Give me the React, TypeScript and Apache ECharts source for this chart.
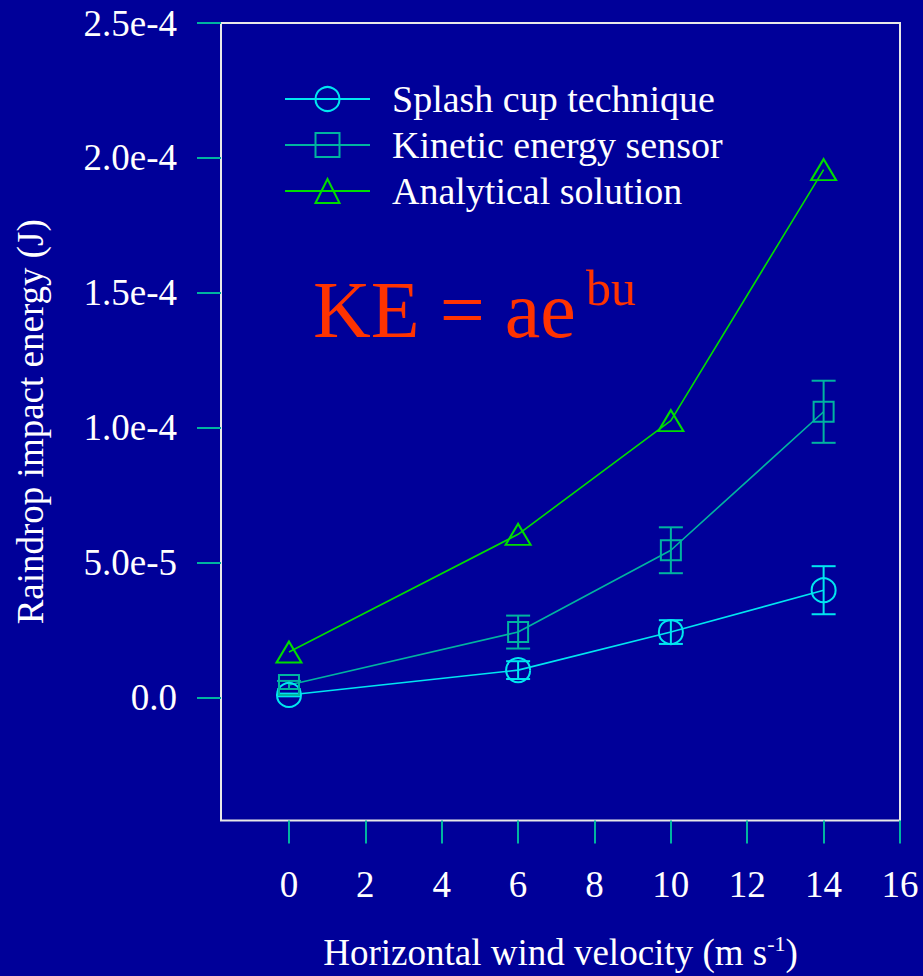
import React, { useEffect, useRef } from "react";
import * as echarts from "echarts";

// ---- Data ----
const windVelocity = [0, 6, 10, 14];
const splashCup = [0.11e-5, 1.03e-5, 2.44e-5, 3.99e-5];
const splashCupErr = [0.05e-5, 0.33e-5, 0.44e-5, 0.89e-5];
const kineticSensor = [0.48e-5, 2.44e-5, 5.47e-5, 10.6e-5];
const kineticSensorErr = [0.15e-5, 0.61e-5, 0.85e-5, 1.15e-5];
const analytical = [1.7e-5, 6.06e-5, 10.27e-5, 19.57e-5];

const seriesNames = ["Splash cup technique", "Kinetic energy sensor", "Analytical solution"];

const xTickValues = [0, 2, 4, 6, 8, 10, 12, 14, 16];
const yTickValues = [0, 5e-5, 1e-4, 1.5e-4, 2e-4, 2.5e-4];
const yTickLabels = ["0.0", "5.0e-5", "1.0e-4", "1.5e-4", "2.0e-4", "2.5e-4"];

const BG = "#000099";
const CYAN = "#00e6f0";
const TEAL = "#00b4a0";
const GREEN = "#00dd00";
const FONT = "'Liberation Serif', 'Times New Roman', serif";

function errorSeries(ys: number[], errs: number[], color: string) {
  return {
    type: "custom",
    silent: true,
    z: 3,
    data: windVelocity.map((x, i) => [x, ys[i] - errs[i], ys[i] + errs[i]]),
    encode: { x: 0, y: [1, 2] },
    renderItem: (_params: any, api: any) => {
      const x = api.value(0);
      const lo = api.coord([x, api.value(1)]);
      const hi = api.coord([x, api.value(2)]);
      const w = 12;
      const style = { stroke: color, lineWidth: 2 };
      return {
        type: "group",
        children: [
          { type: "line", shape: { x1: lo[0], y1: lo[1], x2: hi[0], y2: hi[1] }, style },
          { type: "line", shape: { x1: lo[0] - w, y1: lo[1], x2: lo[0] + w, y2: lo[1] }, style },
          { type: "line", shape: { x1: hi[0] - w, y1: hi[1], x2: hi[0] + w, y2: hi[1] }, style },
        ],
      };
    },
  };
}

function lineSeries(name: string, ys: number[], color: string, symbol: string, size: any) {
  return {
    name,
    type: "line",
    z: 4,
    data: windVelocity.map((x, i) => [x, ys[i]]),
    symbol,
    symbolSize: size,
    showAllSymbol: true,
    lineStyle: { color, width: 1.6 },
    itemStyle: { color: "rgba(0,0,0,0)", borderColor: color, borderWidth: 2 },
    emphasis: { disabled: true },
  };
}

export default function App() {
  const ref = useRef<HTMLDivElement>(null);
  useEffect(() => {
    if (!ref.current) return;
    const chart = echarts.init(ref.current, undefined, { renderer: "svg" });
    chart.setOption({
      animation: false,
      backgroundColor: BG,
      grid: {
        left: 221,
        top: 23,
        right: 23,
        bottom: 153,
        show: true,
        borderColor: "#e8e8e8",
        borderWidth: 2,
        backgroundColor: "transparent",
      },
      legend: {
        orient: "vertical",
        left: 279,
        top: 75,
        itemWidth: 85,
        itemHeight: 30,
        itemGap: 8,
        data: seriesNames,
        textStyle: { color: "#ffffff", fontSize: 38, fontFamily: FONT, padding: [0, 0, 0, 17] },
        selectedMode: false,
      },
      xAxis: {
        type: "value",
        min: -1.78,
        max: 16,
        splitLine: { show: false },
        axisLine: { show: false, onZero: false },
        axisTick: { show: true, length: 23, lineStyle: { color: TEAL, width: 2 }, customValues: xTickValues },
        axisLabel: {
          color: "#ffffff",
          fontSize: 37,
          fontFamily: FONT,
          margin: 45,
          customValues: xTickValues,
        },
        name: "{n|Horizontal wind velocity (m s}{s|-1}{n|)}",
        nameLocation: "middle",
        nameGap: 112,
        nameTextStyle: {
          rich: {
            n: { color: "#ffffff", fontSize: 37, fontFamily: FONT, lineHeight: 40 },
            s: { color: "#ffffff", fontSize: 22, fontFamily: FONT, verticalAlign: "top", lineHeight: 40 },
          },
        },
      },
      yAxis: {
        type: "value",
        min: -4.54e-5,
        max: 2.5e-4,
        splitLine: { show: false },
        axisLine: { show: false, onZero: false },
        axisTick: { show: true, length: 24, lineStyle: { color: TEAL, width: 2 }, customValues: yTickValues },
        axisLabel: {
          color: "#ffffff",
          fontSize: 37,
          fontFamily: FONT,
          margin: 44,
          customValues: yTickValues,
          formatter: (v: number) => {
            const i = yTickValues.findIndex((t) => Math.abs(t - v) < 1e-9);
            return i >= 0 ? yTickLabels[i] : "";
          },
        },
        name: "Raindrop impact energy (J)",
        nameLocation: "middle",
        nameGap: 172,
        nameTextStyle: { color: "#ffffff", fontSize: 37, fontFamily: FONT },
      },
      graphic: [
        {
          type: "text",
          left: 313,
          top: 270,
          style: { text: "KE = ae", fill: "#ff3300", font: `80px ${FONT}` },
        },
        {
          type: "text",
          left: 586,
          top: 263,
          style: { text: "bu", fill: "#ff3300", font: `50px ${FONT}` },
        },
      ],
      series: [
        errorSeries(splashCup, splashCupErr, CYAN),
        errorSeries(kineticSensor, kineticSensorErr, TEAL),
        lineSeries(seriesNames[0], splashCup, CYAN, "circle", 24),
        lineSeries(seriesNames[1], kineticSensor, TEAL, "rect", 20),
        lineSeries(seriesNames[2], analytical, GREEN, "triangle", [25, 21]),
      ],
    });
    return () => chart.dispose();
  }, []);
  return (
    <div
      ref={ref}
      style={{ position: "fixed", left: 0, top: 0, width: 923, height: 976 }}
    />
  );
}
